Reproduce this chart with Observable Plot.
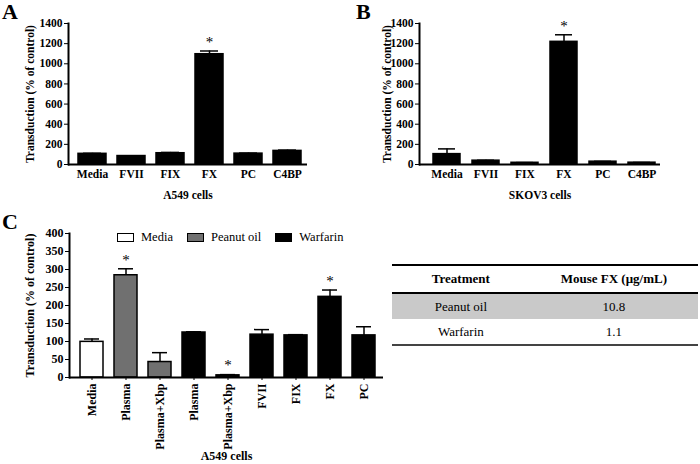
<!DOCTYPE html>
<html><head><meta charset="utf-8">
<script src="https://cdn.jsdelivr.net/npm/d3@7"></script>
<script src="https://cdn.jsdelivr.net/npm/@observablehq/plot@0.6"></script>
<style>
body{margin:0;background:#fff;}
#root{position:relative;width:700px;height:464px;overflow:hidden;background:#fff;font-family:"Liberation Serif",serif;color:#000;}
.panel{position:absolute;}
.letter{position:absolute;font:bold 22px "Liberation Serif",serif;line-height:1;}
#legend{position:absolute;left:117px;top:230px;display:flex;align-items:center;font:12.5px "Liberation Serif",serif;}
#legend .item{display:flex;align-items:center;margin-right:14px;}
#legend .sw{width:15px;height:7px;border:1.2px solid #000;margin-right:7px;}
#tbl{position:absolute;left:392px;top:264px;width:306px;border-collapse:collapse;font:13px "Liberation Serif",serif;}
#tbl th,#tbl td{text-align:center;padding:0;}
#tbl thead th{height:26px;border-top:2.5px solid #000;border-bottom:2.5px solid #000;font-weight:bold;}
#tbl tbody td{height:25px;}
#tbl tbody tr.shade td{background:#c9c9c9;}
#tbl tbody tr:last-child td{border-bottom:2px solid #444;}
</style></head>
<body><div id="root"></div>
<script>
// Panel A: A549 cells
const catA = ["Media", "FVII", "FIX", "FX", "PC", "C4BP"];
const valA = [106, 84, 112, 1095, 108, 135];
const errA = [5, 3, 8, 32, 5, 8];
const sigA = [false, false, false, true, false, false];

// Panel B: SKOV3 cells
const catB = ["Media", "FVII", "FIX", "FX", "PC", "C4BP"];
const valB = [103, 38, 17, 1218, 28, 18];
const errB = [52, 4, 2, 70, 3, 2];
const sigB = [false, false, false, true, false, false];

// Panel C: A549 cells, mouse plasma treatments
const catC = ["Media", "Plasma", "Plasma+Xbp", "Plasma", "Plasma+Xbp", "FVII", "FIX", "FX", "PC"];
const grpC = ["Media", "Peanut oil", "Peanut oil", "Warfarin", "Warfarin", "Warfarin", "Warfarin", "Warfarin", "Warfarin"];
const valC = [99, 284, 43, 125, 6, 119, 117, 224, 117];
const errC = [8, 18, 26, 2, 2, 14, 2, 19, 24];
const sigC = [false, true, false, false, true, false, false, true, false];

const groups = ["Media", "Peanut oil", "Warfarin"];
const groupFill = ["#ffffff", "#707070", "#000000"];

// Table
const tblTreatment = ["Peanut oil", "Warfarin"];
const tblMouseFX = ["10.8", "1.1"];
const tblHeader = ["Treatment", "Mouse FX (\u03bcg/mL)"];

const root = document.getElementById("root");

function barPanel(o) {
  const rows = o.cats.map((c, i) => ({
    i, label: c, v: o.vals[i], e: o.errs[i], sig: o.sig[i],
    fill: o.groups ? groupFill[groups.indexOf(o.groups[i])] : "#000"
  }));
  const plot = Plot.plot({
    width: o.width, height: o.height,
    marginLeft: o.ml, marginRight: o.mr, marginTop: o.mt, marginBottom: o.mb,
    style: {fontFamily: "'Liberation Serif', serif", fontWeight: "bold", fontSize: o.fs + "px", background: "transparent", color: "#000"},
    x: {domain: d3.range(o.cats.length), range: o.xRange, paddingInner: o.pad, paddingOuter: o.pad / 2},
    y: {domain: o.yDomain},
    color: {type: "identity"},
    marks: [
      Plot.barY(rows, {x: "i", y: "v", fill: "fill", stroke: "#000", strokeWidth: 1.5}),
      Plot.ruleX(rows, {x: "i", y1: "v", y2: d => d.v + d.e, stroke: "#000", strokeWidth: 1.5}),
      Plot.tickY(rows, {x: "i", y: d => d.v + d.e, stroke: "#000", strokeWidth: 1.5, insetLeft: o.capInset, insetRight: o.capInset}),
      Plot.text(rows.filter(d => d.sig), {x: "i", y: d => d.v + d.e, text: () => "*", dy: -9, fontSize: 15, fontWeight: "normal", fill: "black"}),
      Plot.ruleY([0], {stroke: "#000", strokeWidth: 2}),
      Plot.frame({anchor: "left", stroke: "#000", strokeWidth: 2}),
      Plot.axisY({ticks: o.yTicks, tickFormat: d3.format("d"), tickSize: 4, tickPadding: 2,
        label: "Transduction (% of control)", labelAnchor: "center", labelOffset: o.ylo, labelArrow: "none"}),
      Plot.axisX({tickFormat: i => o.cats[i], tickSize: o.xTickSize, tickPadding: o.xtp, tickRotate: o.rot || 0,
        label: o.xLabel, labelAnchor: "center", labelOffset: o.xlo, labelArrow: "none"})
    ]
  });
  plot.classList.add("panel");
  plot.style.left = o.left + "px";
  plot.style.top = o.top + "px";
  root.appendChild(plot);
}

barPanel({cats: catA, vals: valA, errs: errA, sig: sigA, width: 330, height: 210, left: 0, top: 0,
  ml: 68, mr: 23, mt: 23, mb: 46, xRange: [72.5, 306.5], pad: 0.28, capInset: 5,
  yDomain: [0, 1400], yTicks: d3.range(0, 1401, 200), fs: 11.5, ylo: 43, xTickSize: 0, xtp: 5,
  xLabel: "A549 cells", xlo: 34});

barPanel({cats: catB, vals: valB, errs: errB, sig: sigB, width: 340, height: 210, left: 350, top: 0,
  ml: 69, mr: 30, mt: 23, mb: 46, xRange: [77, 311], pad: 0.3, capInset: 5,
  yDomain: [0, 1400], yTicks: d3.range(0, 1401, 200), fs: 11.5, ylo: 37, xTickSize: 0, xtp: 5,
  xLabel: "SKOV3 cells", xlo: 34});

barPanel({cats: catC, vals: valC, errs: errC, sig: sigC, groups: grpC, width: 400, height: 254, left: 0, top: 210,
  ml: 69, mr: 17, mt: 23, mb: 87, xRange: [72, 382], pad: 0.33, capInset: 4,
  yDomain: [0, 400], yTicks: d3.range(0, 401, 50), fs: 12, ylo: 44, xTickSize: 3, xtp: 3, rot: -90,
  xLabel: "A549 cells", xlo: 82});

// panel letters
[["A", 2, 1], ["B", 356, 1], ["C", 2, 211]].forEach(([t, x, y]) => {
  const d = document.createElement("div");
  d.className = "letter"; d.textContent = t;
  d.style.left = x + "px"; d.style.top = y + "px";
  root.appendChild(d);
});

// legend
const leg = document.createElement("div");
leg.id = "legend";
groups.forEach((g, i) => {
  const it = document.createElement("div"); it.className = "item";
  const sw = document.createElement("div"); sw.className = "sw"; sw.style.background = groupFill[i];
  const tx = document.createElement("span"); tx.textContent = g;
  it.appendChild(sw); it.appendChild(tx); leg.appendChild(it);
});
root.appendChild(leg);

// table
const tbl = document.createElement("table");
tbl.id = "tbl";
const thead = tbl.createTHead().insertRow();
tblHeader.forEach(h => { const th = document.createElement("th"); th.textContent = h; thead.appendChild(th); });
const tb = tbl.createTBody();
tblTreatment.forEach((t, i) => {
  const r = tb.insertRow();
  if (i === 0) r.className = "shade";
  const c1 = r.insertCell(); c1.textContent = t; c1.style.width = "45%";
  const c2 = r.insertCell(); c2.textContent = tblMouseFX[i];
});
root.appendChild(tbl);
</script>
</body></html>
